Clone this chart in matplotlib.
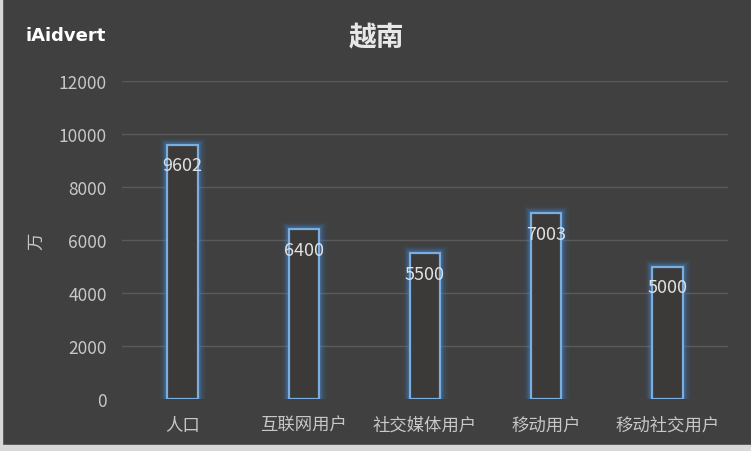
import matplotlib.pyplot as plt
import matplotlib.patches as mpatches

plt.rcParams['font.family'] = ['Noto Sans CJK SC', 'DejaVu Sans']

categories = ["人口", "互联网用户", "社交媒体用户", "移动用户", "移动社交用户"]
values = [9602, 6400, 5500, 7003, 5000]
yticks = [0, 2000, 4000, 6000, 8000, 10000, 12000]

bg = "#404040"
text_col = "#c8c8c8"
edge = "#7aaee0"

fig = plt.figure(figsize=(7.51, 4.52), dpi=100, facecolor=bg)
ax = fig.add_axes([122 / 751, 1 - 400 / 452, 606 / 751, 318 / 452])
ax.set_facecolor(bg)

x = range(len(categories))
# glow
for lw, a in [(11, 0.06), (8, 0.09), (6, 0.13), (4, 0.22)]:
    ax.bar(x, values, width=0.25, facecolor="none", edgecolor="#3f8fe0",
           linewidth=lw, alpha=a, zorder=2)
bars = ax.bar(x, values, width=0.25, facecolor="#3c3a39", edgecolor=edge,
              linewidth=1.6, zorder=3)

for xi, v in zip(x, values):
    ax.annotate(str(v), (xi, v), xytext=(0, -15), textcoords="offset points",
                ha="center", va="center", color="#e0e0e0", fontsize=13,
                fontweight="light", zorder=4)

ax.set_xlim(-0.5, len(categories) - 0.5)
ax.set_ylim(0, 12000)
ax.set_yticks(yticks)
ax.set_yticklabels([str(t) for t in yticks])
ax.set_xticks(list(x))
ax.set_xticklabels(categories)
ax.tick_params(axis="both", length=0, colors=text_col, labelsize=12.5)
ax.tick_params(axis="y", pad=11)
ax.tick_params(axis="x", pad=12)
ax.grid(axis="y", color="#5a5a5a", linewidth=1)
ax.set_axisbelow(True)
for s in ax.spines.values():
    s.set_visible(False)
ax.yaxis.get_gridlines()[0].set_visible(False)

ax.set_ylabel("万", color=text_col, fontsize=12.5, labelpad=10)

fig.text(376 / 751, 1 - 38 / 452, "越南", ha="center", va="center",
         color="#e8e8e8", fontsize=20, fontweight="bold")
fig.text(26 / 751, 1 - 36 / 452, "iAidvert", ha="left", va="center",
         color="white", fontsize=13, fontweight="bold", family="DejaVu Sans")

# light border around the picture
fig.patches.append(mpatches.Rectangle((0, 0), 1, 6 / 452, transform=fig.transFigure,
                                      color="#d8d8d8", zorder=10))
fig.patches.append(mpatches.Rectangle((0, 0), 2 / 751, 1, transform=fig.transFigure,
                                      color="#d8d8d8", zorder=10))

fig.savefig("out.png", dpi=100, facecolor=bg)
